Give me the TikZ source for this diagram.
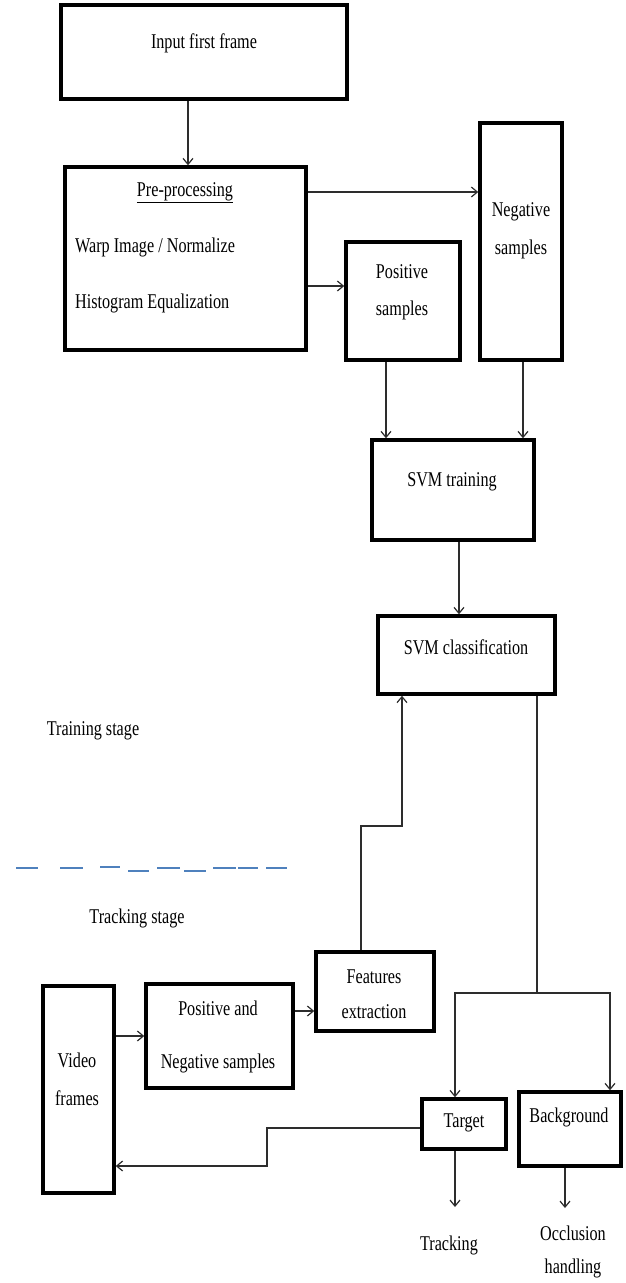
\documentclass[tikz,border=0pt]{standalone}
\usepackage{fontspec}
\setmainfont{Liberation Serif}[FakeStretch=0.77]
\usetikzlibrary{arrows.meta,calc}
\definecolor{dashblue}{RGB}{79,129,189}
\definecolor{linegray}{RGB}{45,45,45}
\tikzset{
  box/.style={draw=black, line width=3.5pt, inner sep=0pt, fill=white},
  txt/.style={inner sep=0pt, align=center, font=\fontsize{21}{24}\selectfont, text=black},
  txtl/.style={txt, anchor=west, align=left},
  arr/.style={draw=linegray, line width=1.2pt, -{Straight Barb[length=6pt,width=10pt,line width=1.2pt]}},
  ln/.style={draw=linegray, line width=1.2pt},
  sep/.style={draw=dashblue, line width=2pt}
}
\begin{document}
\begin{tikzpicture}[x=1pt,y=-1pt]
\useasboundingbox (0,0) rectangle (626,1283);
% boxes
\node[box, minimum width=286pt, minimum height=94pt] (inp) at (204,52) {};
\node[box, minimum width=241pt, minimum height=183pt] (pre) at (185.5,258.5) {};
\node[box, minimum width=82pt, minimum height=237pt] (neg) at (521,241.5) {};
\node[box, minimum width=114pt, minimum height=118pt] (pos) at (403,301) {};
\node[box, minimum width=162pt, minimum height=100pt] (svmt) at (453,490) {};
\node[box, minimum width=177pt, minimum height=78pt] (svmc) at (466.5,655) {};
\node[box, minimum width=71pt, minimum height=207pt] (vid) at (78.5,1089.5) {};
\node[box, minimum width=147pt, minimum height=104pt] (pn) at (219.5,1036) {};
\node[box, minimum width=118pt, minimum height=79pt] (fe) at (375,991.5) {};
\node[box, minimum width=84pt, minimum height=50pt] (tgt) at (464,1124) {};
\node[box, minimum width=102pt, minimum height=74pt] (bg) at (570,1129) {};
% texts
\node[txt] (tinp) at (204,43) {Input first frame};
\node[txt] (tpre) at (185,193) {\underline{Pre-processing}};
\node[txtl] (twarp) at (75,247) {Warp Image / Normalize};
\node[txtl] (thist) at (75,303) {Histogram Equalization};
\node[txt] (tneg1) at (521,212) {Negative};
\node[txt] (tneg2) at (521,249) {samples};
\node[txt] (tpos1) at (402,272) {Positive};
\node[txt] (tpos2) at (402,310) {samples};
\node[txt] (tsvmt) at (452,482) {SVM training};
\node[txt] (tsvmc) at (466,647) {SVM classification};
\node[txt] (ttrain) at (93,731) {Training stage};
\node[txt] (ttrack) at (137,918) {Tracking stage};
\node[txt] (tvid1) at (77,1060) {Video};
\node[txt] (tvid2) at (77,1098) {frames};
\node[txt] (tpn1) at (218,1008) {Positive and};
\node[txt] (tpn2) at (218,1063) {Negative samples};
\node[txt] (tfe1) at (374,977) {Features};
\node[txt] (tfe2) at (374,1012) {extraction};
\node[txt] (ttgt) at (464,1123) {Target};
\node[txt] (tbg) at (569,1117) {Background};
\node[txt] (tout1) at (449,1245) {Tracking};
\node[txt] (tout2) at (573,1233) {Occlusion};
\node[txt] (tout3) at (573,1268) {handling};
% helper coordinates
\coordinate (vA) at (188,0);
\coordinate (hA) at (0,192);
\coordinate (hB) at (0,286);
\coordinate (vB) at (386,0);
\coordinate (vC) at (523,0);
\coordinate (vD) at (459,0);
\coordinate (vE) at (361,0);
\coordinate (vF) at (402,0);
\coordinate (hC) at (0,826);
\coordinate (vG) at (537,0);
\coordinate (hD) at (0,993);
\coordinate (vH) at (455,0);
\coordinate (vI) at (610,0);
\coordinate (hE) at (0,1011);
\coordinate (hF) at (0,1128);
\coordinate (vJ) at (267,0);
\coordinate (hG) at (0,1166);
\coordinate (e1) at (455,1207);
\coordinate (e2) at (565,1208);
% connectors
\draw[arr] (inp.south -| vA) -- (pre.north -| vA);
\draw[arr] (pre.east |- hA) -- (neg.west |- hA);
\draw[arr] (pre.east |- hB) -- (pos.west |- hB);
\draw[arr] (pos.south -| vB) -- (svmt.north -| vB);
\draw[arr] (neg.south -| vC) -- (svmt.north -| vC);
\draw[arr] (svmt.south -| vD) -- (svmc.north -| vD);
\draw[arr] (fe.north -| vE) |- (vF |- hC) -- (svmc.south -| vF);
\draw[ln] (svmc.south -| vG) -- (vG |- hD);
\draw[arr] (vG |- hD) -| (tgt.north -| vH);
\draw[arr] (vG |- hD) -| (bg.north -| vI);
\draw[arr, line width=1.8pt] (vid.east |- pn.west) -- (pn.west);
\draw[arr] (pn.east |- hE) -- (fe.west |- hE);
\draw[arr] (tgt.west |- hF) -- (vJ |- hF) -- (vJ |- hG) -- (vid.east |- hG);
\draw[arr] (tgt.south -| e1) -- (e1);
\draw[arr] (bg.south -| e2) -- (e2);
% dashed separator
\draw[sep] (16,868) -- (38,868) (60,868) -- (83,868) (100,867) -- (120,867)
  (128,871) -- (149,871) (157,868) -- (180,868) (184,871) -- (206,871)
  (213,868) -- (236,868) (238,868) -- (258,868) (266,868) -- (287,868);
\end{tikzpicture}
\end{document}
